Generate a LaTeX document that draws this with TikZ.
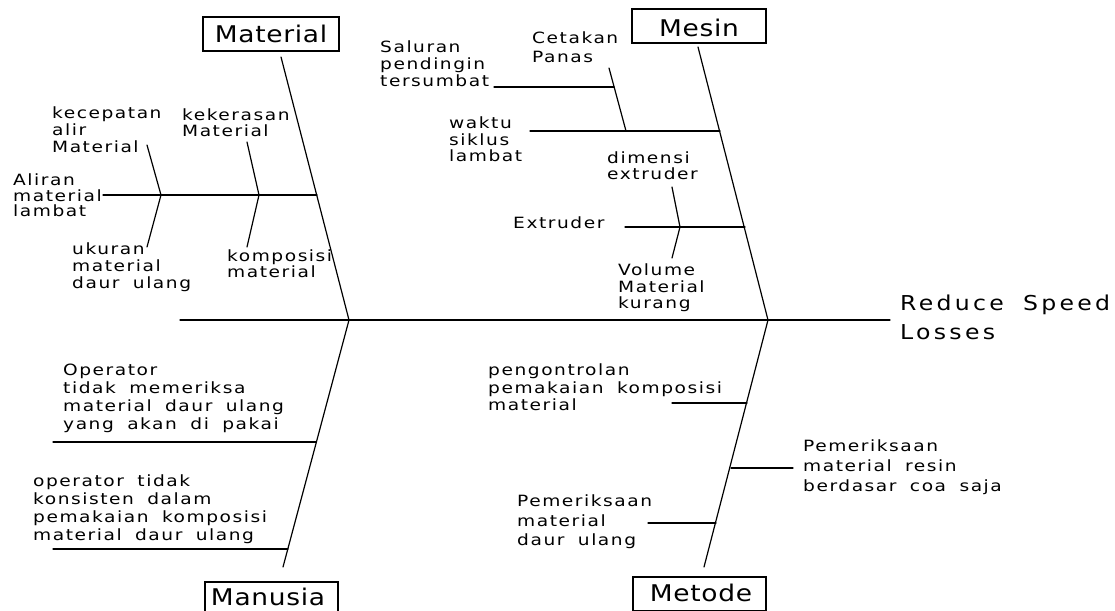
\documentclass[tikz,border=0pt]{standalone}
\usepackage{fontspec}
\newfontfamily\lblfont[FakeStretch=1.2,LetterSpace=10,WordSpace=1.8]{DejaVu Sans}
\newfontfamily\ttlfont[FakeStretch=1.15,LetterSpace=3]{DejaVu Sans}
\newfontfamily\hdfont[FakeStretch=1.15,LetterSpace=16,WordSpace=1.8]{DejaVu Sans}
\tikzset{
  bone/.style={line width=1.2pt, line cap=round},
  lbl/.style={font=\lblfont\fontsize{15.5}{17}\selectfont, align=left, inner sep=0pt, anchor=north west},
  ttl/.style={draw, line width=1.2pt, minimum width=#1, minimum height=34pt, inner sep=0pt, font=\ttlfont\fontsize{23}{26}\selectfont},
  ttltxt/.style={inner sep=0pt, font=\ttlfont\fontsize{23}{26}\selectfont},
}
\begin{document}
\begin{tikzpicture}[x=1pt,y=-1pt]
\clip (0,0) rectangle (1115,610);
\fill[white] (0,0) rectangle (1115,610);
% spine
\coordinate (tail) at (180,320);
\coordinate (head) at (890,320);
\coordinate (jL) at (349,320);
\coordinate (jR) at (768,320);
\draw[bone] (tail) -- (head);
\node[lbl, font=\hdfont\fontsize{20.5}{29}\selectfont, anchor=north west] (effect) at (900,295) {Reduce Speed\\Losses};

% category boxes
\node[ttl=136pt] (matbox) at (271,34) {};
\node[ttltxt] (mattxt) at (271,34) {Material};
\node[ttl=134pt] (mesbox) at (699,26) {};
\node[ttltxt] (mestxt) at (699,28) {Mesin};
\node[ttl=133pt] (manbox) at (271.5,599) {};
\node[ttltxt] (mantxt) at (268,597) {Manusia};
\node[ttl=133pt] (metbox) at (699.5,594) {};
\node[ttltxt] (mettxt) at (701,593) {Metode};

% main bones
\coordinate (matTop) at (281,57);
\coordinate (mesTop) at (698,47);
\coordinate (manBot) at (283,567);
\coordinate (metBot) at (704,567);
\draw[bone] (matTop) -- (jL);
\draw[bone] (mesTop) -- (jR);
\draw[bone] (jL) -- (manBot);
\draw[bone] (jR) -- (metBot);

% Material
\coordinate (a1) at (103,195); \coordinate (a2) at (317,195);
\draw[bone] (a1) -- (a2);
\coordinate (v1t) at (147,145); \coordinate (v1m) at (161,195); \coordinate (v1b) at (147,247);
\draw[bone] (v1t) -- (v1m) -- (v1b);
\coordinate (v2t) at (247,142); \coordinate (v2m) at (259,195); \coordinate (v2b) at (247,247);
\draw[bone] (v2t) -- (v2m) -- (v2b);
\node[lbl] (kec) at (52,107) {kecepatan\\alir\\Material};
\node[lbl, font=\lblfont\fontsize{15.5}{16}\selectfont] (kek) at (182,109) {kekerasan\\Material};
\node[lbl, font=\lblfont\fontsize{15.5}{15.5}\selectfont] (ali) at (13,174) {Aliran\\material\\lambat};
\node[lbl] (uku) at (72,243) {ukuran\\material\\daur ulang};
\node[lbl, font=\lblfont\fontsize{15.5}{15}\selectfont] (kom) at (227,250) {komposisi\\material};

% Mesin
\coordinate (w1) at (530,131); \coordinate (w2) at (720,131);
\draw[bone] (w1) -- (w2);
\coordinate (c1) at (609,68); \coordinate (c2) at (626,131);
\draw[bone] (c1) -- (c2);
\coordinate (s1) at (494,87); \coordinate (s2) at (614,87);
\draw[bone] (s1) -- (s2);
\coordinate (e1) at (625,227); \coordinate (e2) at (745,227);
\draw[bone] (e1) -- (e2);
\coordinate (d1) at (672,187); \coordinate (d2) at (680,227); \coordinate (d3) at (672,258);
\draw[bone] (d1) -- (d2) -- (d3);
\node[lbl, font=\lblfont\fontsize{15.5}{19}\selectfont] (cet) at (532,32) {Cetakan\\Panas};
\node[lbl] (sal) at (380,41) {Saluran\\pendingin\\tersumbat};
\node[lbl, font=\lblfont\fontsize{15.5}{16.5}\selectfont] (wak) at (449,117) {waktu\\siklus\\lambat};
\node[lbl, font=\lblfont\fontsize{15.5}{16}\selectfont] (dim) at (607,152) {dimensi\\extruder};
\node[lbl] (ext) at (513,217) {Extruder};
\node[lbl, font=\lblfont\fontsize{15.5}{16.5}\selectfont] (vol) at (618,264) {Volume\\Material\\kurang};

% Manusia
\coordinate (m1) at (53,442); \coordinate (m2) at (316,442);
\draw[bone] (m1) -- (m2);
\coordinate (n1) at (53,549); \coordinate (n2) at (288,549);
\draw[bone] (n1) -- (n2);
\node[lbl, font=\lblfont\fontsize{15.5}{18}\selectfont] (op1) at (63,364) {Operator\\tidak memeriksa\\material daur ulang\\yang akan di pakai};
\node[lbl, font=\lblfont\fontsize{15.5}{18}\selectfont] (op2) at (33,475) {operator tidak\\konsisten dalam\\pemakaian komposisi\\material daur ulang};

% Metode
\coordinate (p1) at (672,403); \coordinate (p2) at (747,403);
\draw[bone] (p1) -- (p2);
\coordinate (r1) at (731,468); \coordinate (r2) at (793,468);
\draw[bone] (r1) -- (r2);
\coordinate (q1) at (648,523); \coordinate (q2) at (716,523);
\draw[bone] (q1) -- (q2);
\node[lbl, font=\lblfont\fontsize{15.5}{17.5}\selectfont] (pen) at (488,364) {pengontrolan\\pemakaian komposisi\\material};
\node[lbl, font=\lblfont\fontsize{15.5}{20}\selectfont] (per) at (803,440) {Pemeriksaan\\material resin\\berdasar coa saja};
\node[lbl, font=\lblfont\fontsize{15.5}{19.5}\selectfont] (ped) at (517,495) {Pemeriksaan\\material\\daur ulang};
\end{tikzpicture}
\end{document}
